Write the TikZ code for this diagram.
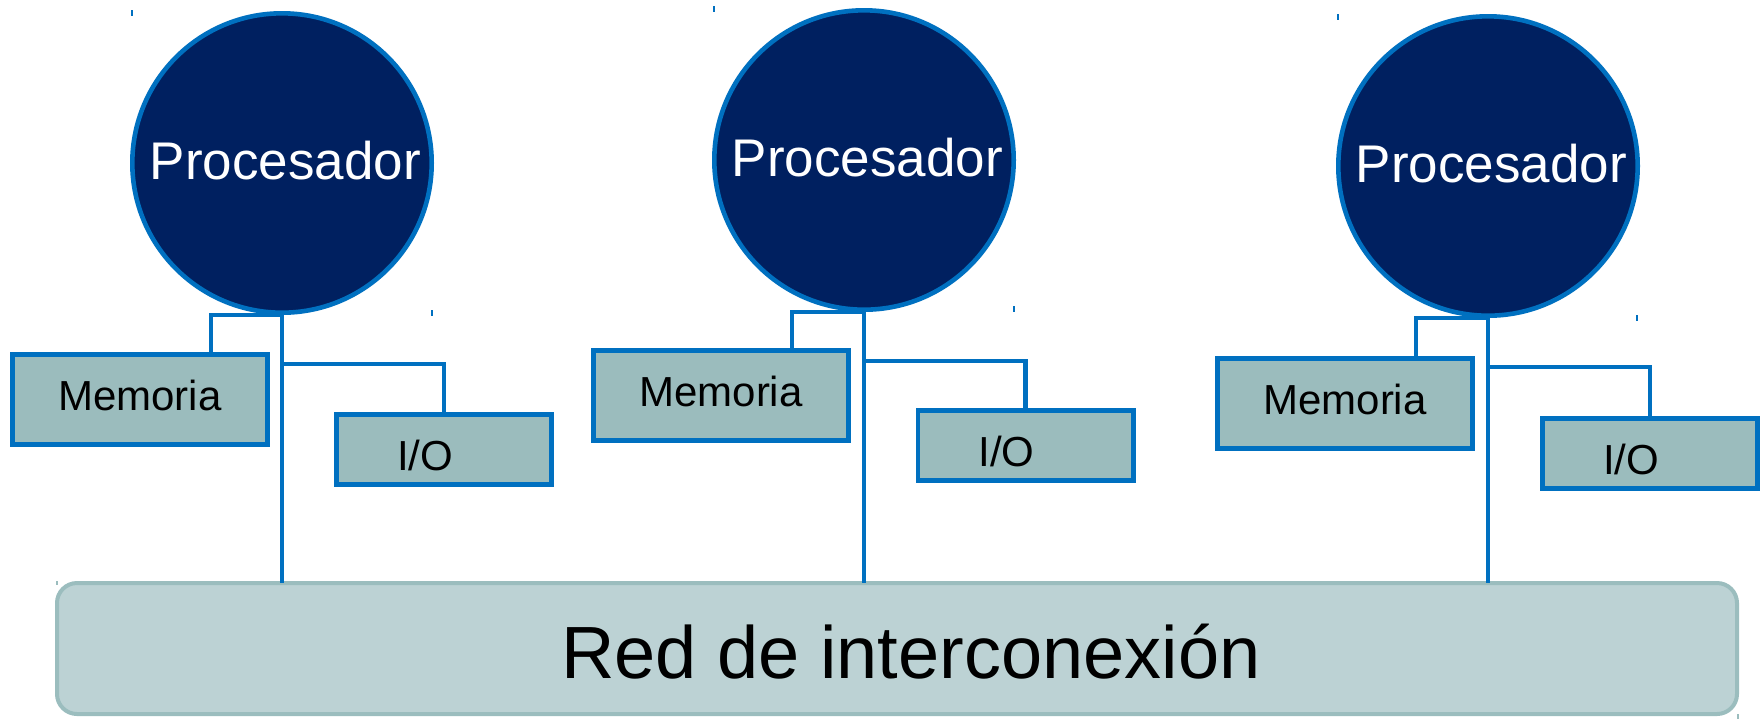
\documentclass[tikz,border=0pt]{standalone}
\usepackage{fontspec}
\setmainfont{Liberation Sans}
\usetikzlibrary{calc}
\definecolor{cpunavy}{RGB}{0,32,96}
\definecolor{edgeblue}{RGB}{0,112,192}
\definecolor{boxteal}{RGB}{155,188,189}
\definecolor{busfill}{RGB}{188,210,212}
\definecolor{busedge}{RGB}{155,189,190}
\tikzset{
  cpu/.style={circle, draw=edgeblue, fill=cpunavy, line width=2.3pt,
              minimum size=149.7pt, inner sep=0pt},
  cputext/.style={text=white, font=\fontsize{26.5pt}{30pt}\selectfont, inner sep=0pt},
  membox/.style={rectangle, draw=edgeblue, fill=boxteal, line width=2.3pt,
                 minimum width=127.75pt, minimum height=45.25pt, inner sep=0pt},
  iobox/.style={rectangle, draw=edgeblue, fill=boxteal, line width=2.3pt,
                minimum width=107.7pt, minimum height=35.2pt, inner sep=0pt},
  boxtext/.style={text=black, font=\fontsize{21pt}{24pt}\selectfont, inner sep=0pt},
  bus/.style={rectangle, rounded corners=10pt, draw=busedge, fill=busfill,
              line width=2pt, minimum width=840pt, minimum height=65.5pt, inner sep=0pt},
  bustext/.style={text=black, font=\fontsize{37pt}{42pt}\selectfont, inner sep=0pt},
  wire/.style={draw=edgeblue, line width=2.25pt},
  handle/.style={line width=0.8pt},
}
\begin{document}
\begin{tikzpicture}[x=0.5pt, y=-0.5pt]
\useasboundingbox (0,0) rectangle (1762,720);

% interconnection network
\node[bus] (bus) at (897,648.5) {};
\node[bustext] (bust) at (911,651.5) {Red de interconexión};

% memory and I/O modules
\node[membox] (m1) at (140,399.5) {};
\node[membox] (m2) at (721,395.5) {};
\node[membox] (m3) at (1345,403.5) {};
\node[boxtext] (m1t) at (140,395.5) {Memoria};
\node[boxtext] (m2t) at (721,391.5) {Memoria};
\node[boxtext] (m3t) at (1345,399.5) {Memoria};

\node[iobox] (io1) at (444,449.5) {};
\node[iobox] (io2) at (1025.5,445.5) {};
\node[iobox] (io3) at (1650,453.5) {};
\node[boxtext] (io1t) at (425,455) {I/O};
\node[boxtext] (io2t) at (1006.5,451) {I/O};
\node[boxtext] (io3t) at (1631,459) {I/O};

% processors
\node[cpu] (c1) at (282,163) {};
\node[cpu] (c2) at (864,160) {};
\node[cpu] (c3) at (1488,166) {};
\node[cputext] (c1t) at (285.5,161) {Procesador};
\node[cputext] (c2t) at (867.5,158) {Procesador};
\node[cputext] (c3t) at (1491.5,164) {Procesador};

% links from each processor to its memory, its I/O and the network
\foreach \i in {1,2,3} {
  \coordinate (j\i) at ($(c\i.south)+(0,49)$);
  \draw[wire] (c\i.south) -- ($(c\i.south |- bus.north)+(0,2)$);
  \draw[wire] (c\i.south) -| ($(m\i.north)+(71,0)$);
  \draw[wire] (j\i) -| (io\i.north);
}

% small selection handles left on the drawing
\draw[handle, edgeblue] (132,10) -- ++(0,6);
\draw[handle, edgeblue] (432,310) -- ++(0,6);
\draw[handle, edgeblue] (714,6) -- ++(0,6);
\draw[handle, edgeblue] (1014,306) -- ++(0,6);
\draw[handle, edgeblue] (1338,14) -- ++(0,6);
\draw[handle, edgeblue] (1637,315) -- ++(0,6);
\draw[handle, busedge] (57,581) -- ++(0,4);
\draw[handle, busedge] (1738,714) -- ++(0,5);
\end{tikzpicture}
\end{document}
